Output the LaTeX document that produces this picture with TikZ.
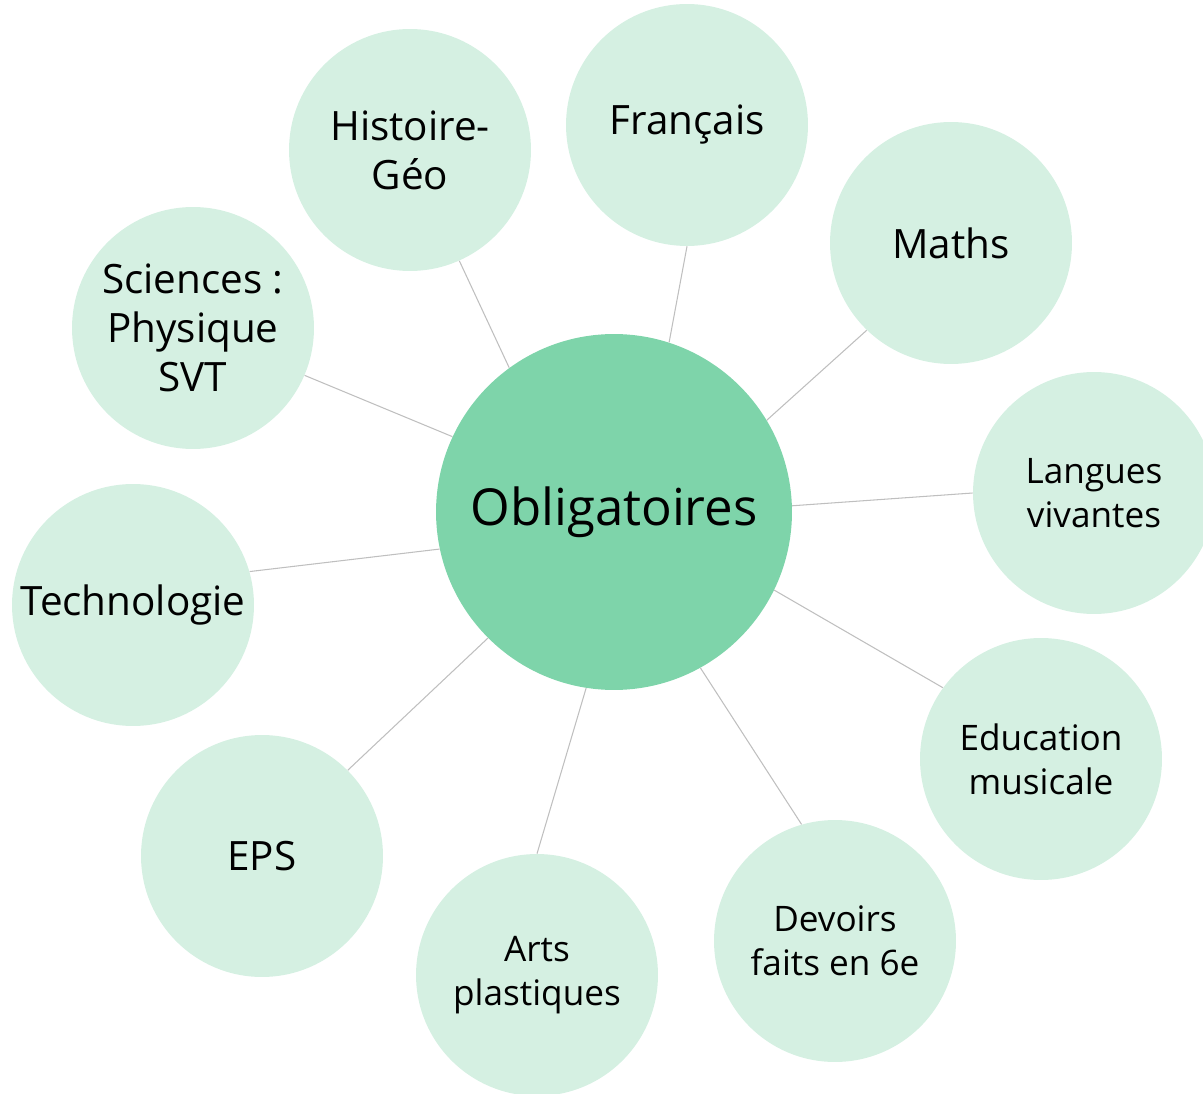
\documentclass[tikz,border=0pt]{standalone}
\usepackage{fontspec}
\setmainfont{Open Sans}
\usepackage{xcolor}
\usepackage{tikz}
\usetikzlibrary{positioning}

\definecolor{centrefill}{HTML}{7ED4AA}
\definecolor{subjfill}{HTML}{D5F0E2}
\definecolor{linkgray}{HTML}{BFBFBF}

\begin{document}
\begin{tikzpicture}[x=0.02cm,y=-0.02cm,
centre/.style={circle,fill=centrefill,minimum size=7.12cm,inner sep=0pt,
    font=\fontsize{29}{35}\selectfont},
subj/.style={circle,fill=subjfill,minimum size=4.84cm,inner sep=0pt,
    align=center,font=\fontsize{23}{28}\selectfont},
subjsmall/.style={subj,font=\fontsize{20}{25}\selectfont},
link/.style={draw=linkgray,line width=0.6pt}]
\useasboundingbox (0,0) rectangle (1203,1094);
\begin{scope}
\clip (0,0) rectangle (1203,1094);
\node (oblig) [centre] at (614,512) {Obligatoires};
\node (hist) [subj] at (410,150) {Histoire-\\Géo};
\node (fr) [subj] at (687,125) {Français};
\node (maths) [subj] at (951,243) {Maths};
\node (lv) [subjsmall] at (1094,493) {Langues\\vivantes};
\node (musique) [subjsmall] at (1041,759) {Education\\musicale};
\node (devoirs) [subjsmall] at (835,941) {Devoirs\\faits en 6e};
\node (arts) [subjsmall] at (537,975) {Arts\\plastiques};
\node (eps) [subj] at (262,856) {EPS};
\node (techno) [subj] at (133,605) {Technologie};
\node (sciences) [subj] at (193,328) {Sciences :\\Physique\\SVT};
\end{scope}
% links: angle on the centre, angle on the subject
\foreach \s/\a/\b in {hist/126/294,fr/72/270,maths/31/226,lv/2/180,
    musique/-26/144,devoirs/-61/106,arts/261/90,eps/225/45,
    techno/192/16,sciences/155/337}
    \draw[link] (oblig.\a) -- (\s.\b);
\end{tikzpicture}
\end{document}
